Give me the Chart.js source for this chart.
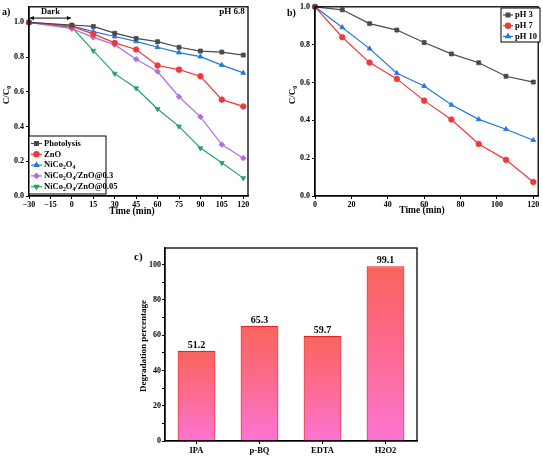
<!DOCTYPE html>
<html lang="en">
<head>
<meta charset="UTF-8">
<title>Degradation kinetics</title>
<script src="https://cdn.jsdelivr.net/npm/chart.js@4"></script>
<style>
  body { margin: 0; background: #fff; }
  .panel { position: absolute; }
</style>
</head>
<body>
<div class="panel" style="left:0px;top:0px"><canvas id="chartA" width="270" height="222"></canvas></div>
<div class="panel" style="left:270px;top:0px"><canvas id="chartB" width="273" height="222"></canvas></div>
<div class="panel" style="left:120px;top:240px"><canvas id="chartC" width="300" height="216"></canvas></div>

<script>
// panel a - catalysts at pH 6.8
const timeA = [-30, 0, 15, 30, 45, 60, 75, 90, 105, 120];
const photolysis = [1.0, 0.985, 0.977, 0.938, 0.908, 0.889, 0.857, 0.835, 0.829, 0.812];
const zno = [1.0, 0.977, 0.934, 0.882, 0.844, 0.752, 0.728, 0.690, 0.555, 0.516];
const nico = [1.0, 0.980, 0.947, 0.919, 0.891, 0.857, 0.826, 0.803, 0.754, 0.709];
const nicoZno03 = [1.0, 0.964, 0.914, 0.872, 0.788, 0.717, 0.572, 0.456, 0.296, 0.218];
const nicoZno005 = [1.0, 0.972, 0.837, 0.705, 0.621, 0.501, 0.401, 0.276, 0.191, 0.103];
const ticksA = [-30, -15, 0, 15, 30, 45, 60, 75, 90, 105, 120];

// panel b - effect of pH
const timeB = [0, 15, 30, 45, 60, 75, 90, 105, 120];
const ph3 = [1.0, 0.984, 0.911, 0.877, 0.811, 0.751, 0.704, 0.633, 0.602];
const ph7 = [1.0, 0.839, 0.705, 0.619, 0.504, 0.404, 0.275, 0.191, 0.074];
const ph10 = [1.0, 0.891, 0.779, 0.649, 0.581, 0.482, 0.405, 0.353, 0.295];
const ticksB = [0, 20, 40, 60, 80, 100, 120];

// panel c - scavengers
const scavengers = ['IPA', 'p-BQ', 'EDTA', 'H2O2'];
const degradation = [51.2, 65.3, 59.7, 99.1];

const SERIF = "'Liberation Serif', 'Times New Roman', 'DejaVu Serif', serif";
const font = size => 'bold ' + size + 'px ' + SERIF;

// text with _2 style subscripts
function drawRich(ctx, text, x, y, size, align) {
    const parts = text.split(/(_\d)/).filter(p => p.length);
    let w = 0;
    parts.forEach(p => {
        const sub = p[0] === '_';
        ctx.font = font(sub ? size * 0.68 : size);
        w += ctx.measureText(sub ? p.slice(1) : p).width;
    });
    let cx = align === 'center' ? x - w / 2 : align === 'right' ? x - w : x;
    ctx.textAlign = 'left';
    ctx.textBaseline = 'middle';
    parts.forEach(p => {
        const sub = p[0] === '_';
        const s = sub ? p.slice(1) : p;
        ctx.font = font(sub ? size * 0.68 : size);
        ctx.fillText(s, cx, sub ? y + size * 0.3 : y);
        cx += ctx.measureText(s).width;
    });
}

// frame + free text
const decor = {
    id: 'decor',
    afterDraw(chart, args, opts) {
        const ctx = chart.ctx, a = chart.chartArea;
        ctx.save();
        ctx.strokeStyle = '#000';
        ctx.lineWidth = 1.3;
        ctx.strokeRect(a.left, a.top, a.right - a.left, a.bottom - a.top);
        ctx.fillStyle = '#000';
        (opts.texts || []).forEach(t => {
            if (t.rotate) {
                ctx.save();
                ctx.translate(t.x, t.y);
                ctx.rotate(-Math.PI / 2);
                drawRich(ctx, t.text, 0, 0, t.size, 'center');
                ctx.restore();
            } else {
                drawRich(ctx, t.text, t.x, t.y, t.size, t.align || 'left');
            }
        });
        ctx.restore();
    }
};

// boxed legend with line + marker
const boxLegend = {
    id: 'boxLegend',
    afterDraw(chart, args, opts) {
        if (!opts.x) return;
        const ctx = chart.ctx;
        ctx.save();
        ctx.fillStyle = '#fff';
        ctx.fillRect(opts.x, opts.y, opts.w, opts.h);
        ctx.strokeStyle = '#000';
        ctx.lineWidth = 1;
        ctx.strokeRect(opts.x, opts.y, opts.w, opts.h);
        chart.data.datasets.forEach((ds, i) => {
            const y = opts.y + opts.first + i * opts.row;
            const x0 = opts.x + 2;
            ctx.strokeStyle = ds.borderColor;
            ctx.fillStyle = ds.borderColor;
            ctx.lineWidth = 1.2;
            ctx.beginPath();
            ctx.moveTo(x0, y);
            ctx.lineTo(x0 + opts.line, y);
            ctx.stroke();
            Chart.helpers.drawPoint(ctx, {
                pointStyle: ds.pointStyle, rotation: ds.pointRotation || 0,
                radius: 2.6, borderWidth: 1
            }, x0 + opts.line / 2, y);
            ctx.fillStyle = '#000';
            drawRich(ctx, ds.label, x0 + opts.line + 2, y, opts.size, 'left');
        });
        ctx.restore();
    }
};

// "Dark" period marker on panel a
const darkMark = {
    id: 'darkMark',
    afterDraw(chart, args, opts) {
        if (opts.from === undefined) return;
        const ctx = chart.ctx, xs = chart.scales.x, ys = chart.scales.y;
        const x1 = xs.getPixelForValue(opts.from), x2 = xs.getPixelForValue(opts.to);
        const y = ys.getPixelForValue(opts.level);
        ctx.save();
        ctx.strokeStyle = '#000';
        ctx.fillStyle = '#000';
        ctx.lineWidth = 1;
        ctx.beginPath();
        ctx.moveTo(x1 + 1, y); ctx.lineTo(x2 - 1, y);
        ctx.stroke();
        [[x1 + 1, 1], [x2 - 1, -1]].forEach(([x, d]) => {
            ctx.beginPath();
            ctx.moveTo(x, y);
            ctx.lineTo(x + 4 * d, y - 2.2);
            ctx.lineTo(x + 4 * d, y + 2.2);
            ctx.closePath();
            ctx.fill();
        });
        drawRich(ctx, 'Dark', (x1 + x2) / 2, ys.getPixelForValue(opts.textLevel), 8.5, 'center');
        ctx.restore();
    }
};

Chart.register(decor, boxLegend, darkMark);

const tickFont = { family: SERIF, weight: 'bold', size: 8 };
const axisGrid = { display: true, drawOnChartArea: false, drawTicks: true, tickLength: 3, color: '#000', lineWidth: 1 };
const axisBorder = { display: true, color: '#000', width: 1.3 };

function series(label, xs, ys, color, style, rot) {
    return {
        label: label,
        data: xs.map((x, i) => ({ x: x, y: ys[i] })),
        borderColor: color, backgroundColor: color,
        borderWidth: 1.2, pointStyle: style, pointRotation: rot || 0,
        pointRadius: 2.8, pointBorderWidth: 0.8, pointBorderColor: color,
        clip: 5
    };
}

function lineOptions(cfg) {
    return {
        responsive: false,
        animation: false,
        layout: { padding: cfg.padding },
        plugins: {
            legend: { display: false },
            tooltip: { enabled: false },
            decor: { texts: cfg.texts },
            boxLegend: cfg.legend,
            darkMark: cfg.dark || {}
        },
        scales: {
            x: {
                type: 'linear', min: cfg.xMin, max: cfg.xMax,
                afterBuildTicks: s => { s.ticks = cfg.xTicks.map(v => ({ value: v })); },
                afterFit: s => { s.height = cfg.xHeight; },
                ticks: { font: tickFont, color: '#000', padding: 1, maxRotation: 0,
                         callback: v => String(v).replace('-', '\u2212') },
                grid: axisGrid, border: axisBorder
            },
            y: {
                min: 0, max: cfg.yMax,
                afterBuildTicks: s => { s.ticks = [0, 0.2, 0.4, 0.6, 0.8, 1.0].map(v => ({ value: v })); },
                afterFit: s => { s.width = cfg.yWidth; },
                ticks: { font: tickFont, color: '#000', padding: 2, callback: v => Number(v).toFixed(1) },
                grid: axisGrid, border: axisBorder
            }
        }
    };
}

new Chart(document.getElementById('chartA'), {
    type: 'line',
    data: {
        datasets: [
            series('Photolysis', timeA, photolysis, '#4a4a4a', 'rect'),
            series('ZnO', timeA, zno, '#f03a3a', 'circle'),
            series('NiCo_2O_4', timeA, nico, '#2277e0', 'triangle'),
            series('NiCo_2O_4/ZnO@0.3', timeA, nicoZno03, '#b36de3', 'rectRot'),
            series('NiCo_2O_4/ZnO@0.05', timeA, nicoZno005, '#23a464', 'triangle', 180)
        ]
    },
    options: lineOptions({
        padding: { top: 2, right: 22, left: 0, bottom: 0 },
        xMin: -30, xMax: 123.3, xTicks: ticksA, xHeight: 26,
        yMax: 1.09, yWidth: 29,
        legend: { x: 29, y: 136, w: 77, h: 58, first: 7.5, row: 10.8, line: 11, size: 8.5 },
        dark: { from: -30, to: 0, level: 1.025, textLevel: 1.06 },
        texts: [
            { text: 'a)', x: 2, y: 12, size: 10 },
            { text: 'pH 6.8', x: 232, y: 12, size: 9, align: 'center' },
            { text: 'C/C_0', x: 7, y: 95, size: 9, rotate: true },
            { text: 'Time (min)', x: 132, y: 212, size: 9.5, align: 'center' }
        ]
    })
});

new Chart(document.getElementById('chartB'), {
    type: 'line',
    data: {
        datasets: [
            series('pH 3', timeB, ph3, '#4a4a4a', 'rect'),
            series('pH 7', timeB, ph7, '#f03a3a', 'circle'),
            series('pH 10', timeB, ph10, '#2277e0', 'triangle')
        ]
    },
    options: lineOptions({
        padding: { top: 6, right: 4, left: 0, bottom: 0 },
        xMin: 0, xMax: 122.7, xTicks: ticksB, xHeight: 26,
        yMax: 1.0, yWidth: 45,
        legend: { x: 231, y: 8, w: 39, h: 34, first: 7, row: 10.7, line: 10, size: 8.5 },
        texts: [
            { text: 'b)', x: 17, y: 13, size: 10 },
            { text: 'C/C_0', x: 23, y: 95, size: 9, rotate: true },
            { text: 'Time (min)', x: 152, y: 211, size: 9.5, align: 'center' }
        ]
    })
});

// value labels above bars
const barValues = {
    id: 'barValues',
    afterDatasetsDraw(chart, args, opts) {
        if (!opts.on) return;
        const ctx = chart.ctx;
        const ds = chart.data.datasets[0];
        ctx.save();
        ctx.fillStyle = '#000';
        chart.getDatasetMeta(0).data.forEach((bar, i) => {
            drawRich(ctx, ds.data[i].toFixed(1), bar.x, bar.y - 5.5, 10, 'center');
        });
        ctx.restore();
    }
};

new Chart(document.getElementById('chartC'), {
    type: 'bar',
    data: {
        labels: scavengers,
        datasets: [{
            label: 'Degradation percentage',
            data: degradation,
            backgroundColor: c => {
                const chart = c.chart;
                if (!chart.chartArea) return '#fb6a6a';
                const ys = chart.scales.y;
                const g = chart.ctx.createLinearGradient(0, ys.getPixelForValue(c.raw), 0, ys.getPixelForValue(0));
                g.addColorStop(0, '#fa645c');
                g.addColorStop(0.5, '#fc6b92');
                g.addColorStop(1, '#fd75d4');
                return g;
            },
            borderColor: '#e42228',
            borderWidth: 1.2,
            borderSkipped: 'bottom',
            barPercentage: 0.6,
            categoryPercentage: 1
        }]
    },
    plugins: [barValues],
    options: {
        responsive: false,
        animation: false,
        layout: { padding: { top: 8, right: 3, left: 0, bottom: 0 } },
        plugins: {
            legend: { display: false },
            tooltip: { enabled: false },
            barValues: { on: true },
            decor: {
                texts: [
                    { text: 'c)', x: 14, y: 17, size: 11 },
                    { text: 'Degradation percentage', x: 24, y: 106, size: 9, rotate: true }
                ]
            }
        },
        scales: {
            x: {
                afterFit: s => { s.height = 15; },
                ticks: { font: { family: SERIF, weight: 'bold', size: 8.5 }, color: '#000', padding: 2 },
                grid: { ...axisGrid, offset: false }, border: axisBorder
            },
            y: {
                min: 0, max: 109.5,
                afterBuildTicks: s => { s.ticks = [0, 10, 20, 30, 40, 50, 60, 70, 80, 90, 100].map(v => ({ value: v })); },
                afterFit: s => { s.width = 45; },
                ticks: { font: tickFont, color: '#000', padding: 1, callback: v => (v % 20 === 0 ? v : '') },
                grid: axisGrid, border: axisBorder
            }
        }
    }
});
</script>
</body>
</html>
